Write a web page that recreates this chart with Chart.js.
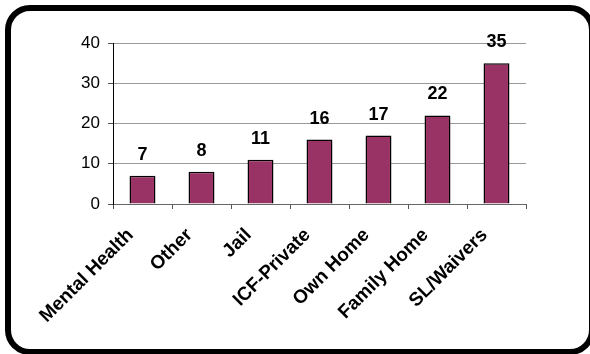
<!DOCTYPE html>
<html>
<head>
<meta charset="utf-8">
<script src="https://cdn.jsdelivr.net/npm/chart.js@4"></script>
<style>
  html, body { margin: 0; padding: 0; background: #fff; overflow: hidden; }
  canvas { position: absolute; left: 0; top: 0; }
</style>
</head>
<body>
<canvas id="c" width="590" height="354"></canvas>
<script>
const categories = ["Mental Health", "Other", "Jail", "ICF-Private", "Own Home", "Family Home", "SL/Waivers"];
const values = [7, 8, 11, 16, 17, 22, 35];
const yTicks = [0, 10, 20, 30, 40];

const frame = {
  id: 'frame',
  beforeDraw(chart) {
    const ctx = chart.ctx;
    ctx.save();
    ctx.fillStyle = '#fff';
    ctx.fillRect(0, 0, chart.width, chart.height);
    const x = 8, y = 8, w = 584, h = 344, r = 22;
    ctx.beginPath();
    ctx.moveTo(x + r, y);
    ctx.lineTo(x + w - r, y);
    ctx.arcTo(x + w, y, x + w, y + r, r);
    ctx.lineTo(x + w, y + h - r);
    ctx.arcTo(x + w, y + h, x + w - r, y + h, r);
    ctx.lineTo(x + r, y + h);
    ctx.arcTo(x, y + h, x, y + h - r, r);
    ctx.lineTo(x, y + r);
    ctx.arcTo(x, y, x + r, y, r);
    ctx.closePath();
    ctx.lineWidth = 6;
    ctx.strokeStyle = '#000';
    ctx.stroke();
    ctx.restore();
  }
};

const dataLabels = {
  id: 'dataLabels',
  afterDatasetsDraw(chart) {
    const ctx = chart.ctx;
    const meta = chart.getDatasetMeta(0);
    ctx.save();
    ctx.font = 'bold 18px "Liberation Sans", Arial, sans-serif';
    ctx.fillStyle = '#000';
    ctx.textAlign = 'center';
    ctx.textBaseline = 'alphabetic';
    meta.data.forEach((bar, i) => {
      ctx.fillText(String(values[i]), bar.x, bar.y - 16);
    });
    ctx.restore();
  }
};

new Chart(document.getElementById('c'), {
  type: 'bar',
  data: {
    labels: categories,
    datasets: [{
      data: values,
      backgroundColor: '#993366',
      borderColor: '#000',
      borderWidth: 1.5,
      barPercentage: 0.44,
      categoryPercentage: 1.0
    }]
  },
  options: {
    responsive: false,
    animation: false,
    devicePixelRatio: 1,
    layout: { padding: { left: 13, top: 43, right: 64, bottom: 10 } },
    plugins: { legend: { display: false }, tooltip: { enabled: false } },
    scales: {
      x: {
        afterFit(s) { s.height = 140; },
        grid: { drawOnChartArea: false, drawTicks: true, tickLength: 5, color: '#555', offset: true },
        border: { display: true, color: '#666', width: 1 },
        ticks: {
          autoSkip: false,
          maxRotation: 45, minRotation: 45,
          labelOffset: -12,
          padding: 15,
          color: '#000',
          font: { family: '"Liberation Sans", Arial, sans-serif', size: 19, weight: 'bold' }
        }
      },
      y: {
        min: 0, max: 40,
        afterFit(s) { s.width = 100; },
        afterBuildTicks(s) { s.ticks = yTicks.map(v => ({ value: v })); },
        grid: { color: '#999', lineWidth: 1, tickLength: 5, tickColor: '#555' },
        border: { display: true, color: '#000', width: 1 },
        ticks: {
          padding: 8,
          color: '#000',
          font: { family: '"Liberation Sans", Arial, sans-serif', size: 17 }
        }
      }
    }
  },
  plugins: [frame, dataLabels]
});
</script>
</body>
</html>
